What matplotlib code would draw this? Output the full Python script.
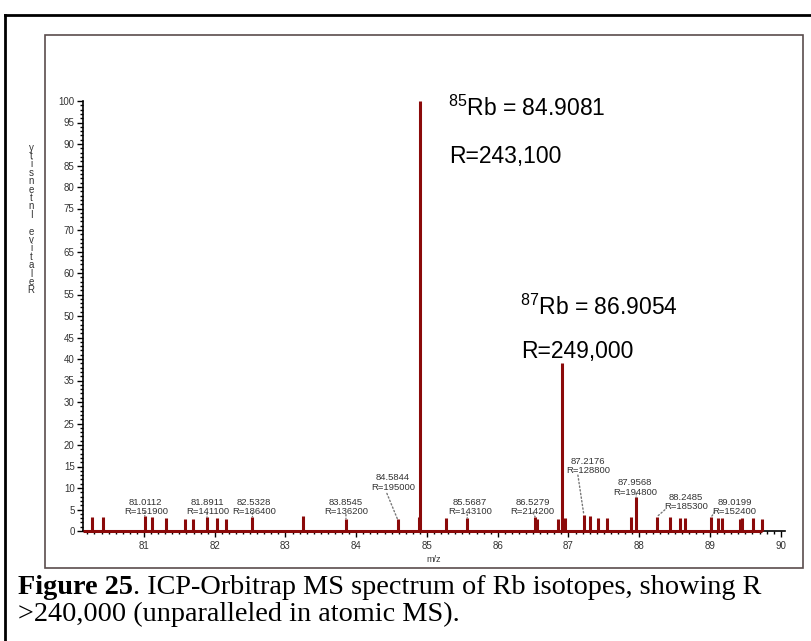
import matplotlib.pyplot as plt
from matplotlib.lines import Line2D
from matplotlib.patches import Rectangle
from matplotlib.ticker import MultipleLocator

plt.rcParams['font.family'] = ['Liberation Sans', 'DejaVu Sans']
plt.rcParams['mathtext.fontset'] = 'custom'
plt.rcParams['mathtext.rm'] = 'Liberation Sans'
plt.rcParams['mathtext.default'] = 'regular'

# пики спектра: m/z и относительная интенсивность, %
mz = [80.265, 80.416, 81.0112, 81.12, 81.31, 81.584, 81.697, 81.8911, 82.037, 82.164,
      82.5328, 83.253, 83.8545, 84.5844, 84.88, 84.9081, 85.267, 85.5687, 86.5279, 86.56,
      86.85, 86.9054, 86.955, 87.2176, 87.30, 87.41, 87.54, 87.89, 87.9568, 88.2485,
      88.43, 88.57, 88.64, 89.0199, 89.12, 89.17, 89.42, 89.45, 89.61, 89.74]
intensity = [3.3, 3.2, 3.5, 3.3, 3.0, 2.9, 2.9, 3.2, 3.0, 2.9,
             3.3, 3.4, 2.9, 2.7, 3.2, 100.0, 3.0, 3.0, 3.3, 2.7,
             2.8, 39.1, 3.0, 3.7, 3.4, 3.0, 3.0, 3.2, 7.8, 3.3,
             3.2, 3.0, 3.0, 3.3, 3.0, 3.0, 2.8, 3.0, 3.0, 2.9]

# подписанные пики и их разрешение
label_mz = [81.0112, 81.8911, 82.5328, 83.8545, 84.5844, 85.5687,
            86.5279, 87.2176, 87.9568, 88.2485, 89.0199]
label_r = [151900, 141100, 186400, 136200, 195000, 143100,
           214200, 128800, 194800, 185300, 152400]

# изотопы Rb
iso_mass = [85, 87]
iso_mz = [84.9081, 86.9054]
iso_r = ['243,100', '249,000']

# смещения подписей и выносок от вершины пика, пиксели
label_offset = [(1, 9), (0.6, 10), (1.5, 9.5), (0, 11.5), (-4.7, 37), (2.6, 11),
                (-2.5, 10), (4.2, 49), (-1, 10), (29, 14.5), (23, 10)]
leader_end = [(0, 4), (0, 4), (0, 4), (0, 4), (-10.7, 26), (0, 4),
              (-2, 4), (-6, 40), (0, 4), (8, 7), (3.3, 5)]
iso_offset = [[(28, -7), (29, -56)], [(-42, 56), (-41, 11)]]

W, H = 812, 641
red = '#8b0a0a'

fig = plt.figure(figsize=(W / 100, H / 100), dpi=100)
ax = fig.add_axes([83 / W, 1 - 531 / H, (785 - 83) / W, (531 - 101) / H])

# внешняя рамка (обрезана справа и снизу)
fig.add_artist(Line2D([5 / W, 5 / W], [0, 1 - 15 / H], transform=fig.transFigure,
                      color='black', lw=2))
fig.add_artist(Line2D([5 / W, 1], [1 - 15 / H, 1 - 15 / H], transform=fig.transFigure,
                      color='black', lw=2))
# рамка вокруг графика
fig.add_artist(Rectangle((45 / W, 1 - 568 / H), (803 - 45) / W, (568 - 35) / H,
                         transform=fig.transFigure, fill=False, ec='#5a4d4d', lw=1.2))

# спектр
ax.hlines(0, 80.138, max(mz), color=red, lw=2.2, clip_on=False, zorder=3)
ax.vlines(mz, 0, intensity, color=red, lw=2.2, clip_on=False, zorder=3)

for i, m in enumerate(label_mz):
    h = intensity[mz.index(m)]
    ax.annotate('', xy=(m, h), xytext=leader_end[i], textcoords='offset pixels',
                arrowprops=dict(arrowstyle='-', ls=':', color='#777777', lw=1,
                                shrinkA=0, shrinkB=0))
    ax.annotate(f'{m:.4f}\nR={label_r[i]}', xy=(m, h), xytext=label_offset[i],
                textcoords='offset pixels', ha='center', va='center',
                fontsize=6.8, linespacing=1.05, color='#333333')

for i, m in enumerate(iso_mz):
    h = intensity[mz.index(m)]
    ax.annotate(f'$^{{{iso_mass[i]}}}$Rb = {m:.4f}', xy=(m, h), xytext=iso_offset[i][0],
                textcoords='offset pixels', ha='left', va='center', fontsize=16.5)
    ax.annotate(f'R={iso_r[i]}', xy=(m, h), xytext=iso_offset[i][1],
                textcoords='offset pixels', ha='left', va='center', fontsize=16.5)

ax.set_xlim(80.138, 90.06)
ax.set_ylim(0, 100)
ax.spines['top'].set_visible(False)
ax.spines['right'].set_visible(False)
ax.spines['left'].set_linewidth(1.2)
ax.spines['bottom'].set_linewidth(1.2)
ax.xaxis.set_major_locator(MultipleLocator(1))
ax.xaxis.set_minor_locator(MultipleLocator(0.1))
ax.yaxis.set_major_locator(MultipleLocator(5))
ax.yaxis.set_minor_locator(MultipleLocator(1))
ax.tick_params(which='major', length=4.5, width=1, labelsize=7, colors='black',
               labelcolor='#333333')
ax.tick_params(which='minor', length=2.5, width=1)
ax.tick_params(axis='y', which='major', pad=1.5)
ax.tick_params(axis='x', which='major', pad=2.5)
ax.set_xlabel('m/z', fontsize=6.5, labelpad=3, color='#333333')

# подпись оси Y — буквы столбиком снизу вверх
fig.text(31 / W, 1 - 219 / H, '\n'.join(reversed('Relative Intensity')),
         ha='center', va='center', fontsize=7, linespacing=0.8, color='#333333')

# подпись к рисунку
cap_size = 20.3
renderer = fig.canvas.get_renderer()
t = fig.text(18 / W, 1 - 587 / H, 'Figure 25', fontsize=cap_size, fontweight='bold',
             family='Liberation Serif', va='center')
bb = t.get_window_extent(renderer)
fig.text(bb.x1 / W, 1 - 587 / H, '. ICP-Orbitrap MS spectrum of Rb isotopes, showing R',
         fontsize=cap_size, family='Liberation Serif', va='center')
fig.text(18 / W, 1 - 614 / H, '>240,000 (unparalleled in atomic MS).',
         fontsize=cap_size, family='Liberation Serif', va='center')

fig.savefig('out.png', dpi=100)
